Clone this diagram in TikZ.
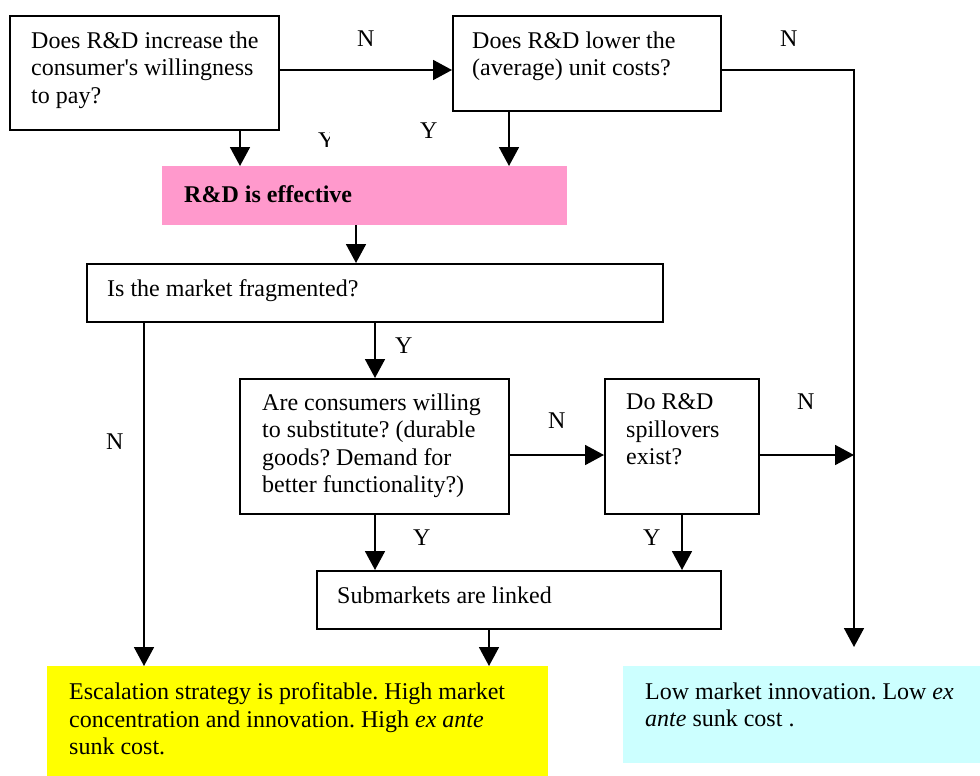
\documentclass[tikz,border=0pt]{standalone}
\usepackage{fontspec}
\setmainfont{Liberation Serif}
\usetikzlibrary{arrows.meta}
\definecolor{pinkfill}{HTML}{FF99CC}
\definecolor{yellowfill}{HTML}{FFFF00}
\definecolor{cyanfill}{HTML}{CCFFFF}
\frenchspacing
\begin{document}
\begin{tikzpicture}[x=1pt,y=-1pt,
  box/.style={draw=black, line width=1.8pt, rectangle, inner sep=0pt, anchor=north west},
  fillbox/.style={rectangle, inner sep=0pt, anchor=north west, draw=none},
  txt/.style={font=\fontsize{24}{27.5}\selectfont, inner sep=0pt, align=left, anchor=north west},
  lbl/.style={font=\fontsize{24}{27.5}\selectfont, inner sep=0pt, anchor=base west},
  conn/.style={line width=1.8pt, -{Triangle[length=19pt,width=20pt]}}
]
\useasboundingbox (0,0) rectangle (980,776);

% boxes
\node[box, minimum width=269pt, minimum height=114pt] (A) at (9,15) {};
\node[box, minimum width=268pt, minimum height=95pt] (B) at (452,15) {};
\node[fillbox, fill=pinkfill, minimum width=405pt, minimum height=59pt] (P) at (162,166) {};
\node[box, minimum width=576pt, minimum height=58pt] (M) at (86,263) {};
\node[box, minimum width=269pt, minimum height=135pt] (C) at (239,378) {};
\node[box, minimum width=154pt, minimum height=135pt] (S) at (604,378) {};
\node[box, minimum width=404pt, minimum height=58pt] (L) at (316,570) {};
\node[fillbox, fill=yellowfill, minimum width=501pt, minimum height=110pt] (Yb) at (47,666) {};
\node[fillbox, fill=cyanfill, minimum width=357pt, minimum height=97pt] (Cb) at (623,666) {};

% texts
\node[txt] (tA) at (31,31.6) {Does R\&D increase the\\consumer\textquotesingle s willingness\\to pay?};
\node[txt] (tB) at (472,31.6) {Does R\&D lower the\\(average) unit costs?};
\node[lbl, font=\fontsize{24}{27.5}\selectfont\bfseries] (tP) at (184,202) {R\&D is effective};
\node[lbl] (tM) at (107,296) {Is the market fragmented?};
\node[txt] (tC) at (262,393.6) {Are consumers willing\\to substitute? (durable\\goods? Demand for\\better functionality?)};
\node[txt] (tS) at (626,393.6) {Do R\&D\\spillovers\\exist?};
\node[lbl] (tL) at (337,603) {Submarkets are linked};
\node[txt] (tY) at (69,682.6) {Escalation strategy is profitable. High market\\concentration and innovation. High \textit{ex ante}\\sunk cost.};
\node[txt] (tCy) at (645,682.6) {Low market innovation. Low \textit{ex}\\\textit{ante} sunk cost .};

% labels
\node[lbl] (n1) at (357,47) {N};
\node[lbl] (n2) at (780,47) {N};
\begin{scope}
  \clip (314,124) rectangle (329,146);
  \node[lbl] (y0) at (318,148) {Y};
\end{scope}
\node[lbl] (y1) at (420,138) {Y};
\node[lbl] (y2) at (395,353) {Y};
\node[lbl] (n3) at (106,449) {N};
\node[lbl] (n4) at (548,428) {N};
\node[lbl] (n5) at (797,409) {N};
\node[lbl] (y3) at (413,545) {Y};
\node[lbl] (y4) at (643,545) {Y};

% connector helper points
\coordinate (Rtop) at (854,70);
\coordinate (Rmid) at (854,455);
\coordinate (Rend) at (854,647);

% connectors
\draw[conn] (A.east |- Rtop) -- (B.west |- Rtop);
\draw[conn] (240,0 |- A.south) -- (240,0 |- P.north);
\draw[conn] (509,0 |- B.south) -- (509,0 |- P.north);
\draw[conn] (B.east |- Rtop) -- (Rtop) -- (Rend);
\draw[conn] (356,0 |- P.south) -- (356,0 |- M.north);
\draw[conn] (144,0 |- M.south) -- (144,0 |- Yb.north);
\draw[conn] (375,0 |- M.south) -- (375,0 |- C.north);
\draw[conn] (C.east |- Rmid) -- (S.west |- Rmid);
\draw[conn] (S.east |- Rmid) -- (Rmid);
\draw[conn] (375,0 |- C.south) -- (375,0 |- L.north);
\draw[conn] (682,0 |- S.south) -- (682,0 |- L.north);
\draw[conn] (489,0 |- L.south) -- (489,0 |- Yb.north);
\end{tikzpicture}
\end{document}
